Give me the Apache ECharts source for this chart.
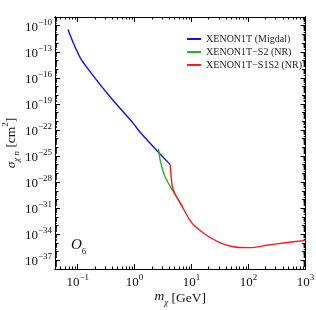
<!DOCTYPE html>
<html><head><meta charset="utf-8">
<script src="https://cdn.jsdelivr.net/npm/echarts@6/dist/echarts.min.js"></script>
<style>html,body{margin:0;padding:0;background:#fff}#c{width:316px;height:310px}</style>
</head><body><div id="c"></div>
<script>
// Data (mass in GeV, cross-section as log10(sigma / cm^2))
const migdalMass = [0.0676, 0.0847, 0.111, 0.155, 0.373, 0.955, 1.25, 2.62, 4.21];
const migdalLogSigma = [-10.45, -12.06, -13.70, -15.05, -18.21, -21.27, -22.27, -24.57, -25.99];
const s2Mass = [2.62, 2.81, 3.44, 4.81, 7.02];
const s2LogSigma = [-24.14, -25.49, -27.41, -29.14, -30.84];
const s1s2Mass = [4.21, 4.56, 5.14, 7.19, 9.16, 11.5, 17.3, 28.1, 54, 106, 208, 408, 1000];
const s1s2LogSigma = [-25.99, -28.37, -29.37, -31.07, -32.31, -33.09, -34.0, -34.81, -35.44, -35.54, -35.27, -35.01, -34.70];
const seriesNames = ['XENON1T (Migdal)', 'XENON1T\u2212S2 (NR)', 'XENON1T\u2212S1S2 (NR)'];
const seriesColors = ['#1010ff', '#22b422', '#ff1a1a'];
const xTickExps = [-1, 0, 1, 2, 3];
const yTickExps = [-37, -34, -31, -28, -25, -22, -19, -16, -13, -10];

const XMIN = Math.log10(0.04), XMAX = 3, YMIN = -38, YMAX = -9;
const FONT = 'Liberation Serif';

function toPts(ms, ls) { return ms.map((m, i) => [Math.log10(m), ls[i]]); }

const xMinor = [];
for (let n = -2; n <= 2; n++) for (let k = 2; k <= 9; k++) {
  const v = Math.log10(k) + n; if (v >= XMIN && v <= XMAX) xMinor.push(v);
}
const yDecade = [], ySub = [];
for (let n = YMIN; n <= YMAX; n++) {
  if (yTickExps.indexOf(n) < 0) yDecade.push(n);
  for (let k = 2; k <= 9; k++) { const v = n + Math.log10(k); if (v < YMAX) ySub.push(v); }
}
const rich = { b: { fontFamily: FONT, fontSize: 13, color: '#111', verticalAlign: 'bottom', lineHeight: 16 },
               s: { fontFamily: FONT, fontSize: 9, color: '#111', verticalAlign: 'top', lineHeight: 16 } };
function lab(v) { const e = Math.round(v); return '{b|10}{s|' + (e < 0 ? '\u2212' + (-e) : e) + '}'; }

function xAx(pos, ticks, len, labels, extra) {
  return Object.assign({ type: 'value', min: XMIN, max: XMAX, position: pos,
    axisLine: { show: true, onZero: false, lineStyle: { color: '#000', width: 1 } },
    axisTick: { show: true, inside: true, length: len, customValues: ticks, lineStyle: { color: '#000', width: 1 } },
    axisLabel: labels ? { customValues: xTickExps, formatter: lab, rich: rich, margin: 4 } : { show: false },
    splitLine: { show: false } }, extra || {});
}
function yAx(pos, ticks, len, labels, extra) {
  return Object.assign({ type: 'value', min: YMIN, max: YMAX, position: pos,
    axisLine: { show: true, onZero: false, lineStyle: { color: '#000', width: 1 } },
    axisTick: { show: true, inside: true, length: len, customValues: ticks, lineStyle: { color: '#000', width: 1 } },
    axisLabel: labels ? { customValues: yTickExps, formatter: lab, rich: rich, margin: 3 } : { show: false },
    splitLine: { show: false } }, extra || {});
}

const chart = echarts.init(document.getElementById('c'), null, { renderer: 'canvas' });
chart.setOption({
  animation: false,
  backgroundColor: '#fff',
  grid: { left: 55, top: 17, right: 10.5, bottom: 41, containLabel: false, outerBoundsMode: 'none' },
  xAxis: [
    xAx('bottom', xTickExps, 5, true, {
      name: '{i|m}{sb|\u03c7} [GeV]', nameLocation: 'middle', nameGap: 20, nameMoveOverlap: false,
      nameTextStyle: { rich: {
        i: { fontFamily: FONT, fontStyle: 'italic', fontSize: 13.5, color: '#111', verticalAlign: 'top', lineHeight: 18 },
        sb: { fontFamily: FONT, fontStyle: 'italic', fontSize: 9, color: '#111', verticalAlign: 'bottom', lineHeight: 18 } },
        fontFamily: FONT, fontSize: 13.5, color: '#111' } }),
    xAx('bottom', xMinor, 2.5, false),
    xAx('top', xTickExps, 5, false),
    xAx('top', xMinor, 2.5, false)
  ],
  yAxis: [
    yAx('left', yTickExps, 5, true, {
      name: '{i|\u03c3}{sb|\u03c7 n} [cm{sp|2}]', nameLocation: 'middle', nameGap: 34, nameMoveOverlap: false,
      nameTextStyle: { fontFamily: FONT, fontSize: 13.5, color: '#111', rich: {
        i: { fontFamily: FONT, fontStyle: 'italic', fontSize: 13.5, color: '#111', verticalAlign: 'middle', lineHeight: 20 },
        sb: { fontFamily: FONT, fontStyle: 'italic', fontSize: 9, color: '#111', verticalAlign: 'bottom', lineHeight: 20 },
        sp: { fontFamily: FONT, fontSize: 9, color: '#111', verticalAlign: 'top', lineHeight: 20 } } } }),
    yAx('left', yDecade, 3.5, false),
    yAx('left', ySub, 1.8, false),
    yAx('right', yTickExps, 5, false),
    yAx('right', yDecade, 3.5, false),
    yAx('right', ySub, 1.8, false)
  ],
  legend: {
    orient: 'vertical', right: 14, top: 34, padding: 0, itemGap: 3,
    itemWidth: 14, itemHeight: 2, icon: 'rect',
    textStyle: { fontFamily: FONT, fontSize: 10, color: '#222' },
    data: seriesNames
  },
  graphic: [{
    type: 'text', left: 71, top: 238,
    style: { text: '{o|O}{n|6}', rich: {
      o: { fontFamily: FONT, fontStyle: 'italic', fontSize: 15, fill: '#111', verticalAlign: 'top', lineHeight: 18 },
      n: { fontFamily: FONT, fontSize: 9, fill: '#111', verticalAlign: 'bottom', lineHeight: 18 } } }
  }],
  series: [
    { name: seriesNames[0], type: 'line', data: toPts(migdalMass, migdalLogSigma), smooth: 0.2, showSymbol: false,
      color: seriesColors[0], lineStyle: { width: 1.4, color: seriesColors[0] } },
    { name: seriesNames[1], type: 'line', data: toPts(s2Mass, s2LogSigma), smooth: 0.2, showSymbol: false,
      color: seriesColors[1], lineStyle: { width: 1.4, color: seriesColors[1] } },
    { name: seriesNames[2], type: 'line', data: toPts(s1s2Mass, s1s2LogSigma), smooth: 0.25, showSymbol: false,
      color: seriesColors[2], lineStyle: { width: 1.4, color: seriesColors[2] } }
  ]
});
</script>
</body></html>
